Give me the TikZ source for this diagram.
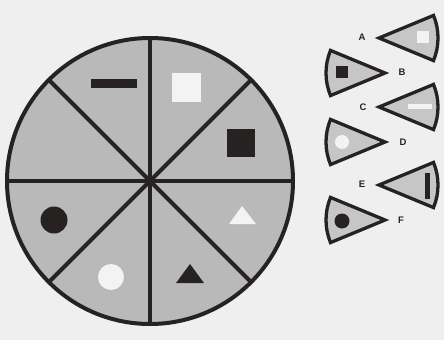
\documentclass[tikz,border=0pt]{standalone}
\usepackage{fontspec}
\setsansfont{Liberation Sans}
\begin{document}
\begin{tikzpicture}[x=1pt,y=-1pt,
  ink/.style={draw=inkc,line width=4pt,line join=miter},
  wedgestyle/.style={draw=inkc,fill=wedgefill,line width=3.3pt,line join=miter},
  lbl/.style={font=\fontsize{9.5}{9.5}\selectfont\sffamily\bfseries,text=inkc,inner sep=0pt},
  blk/.style={fill=inkc,draw=none},
  wht/.style={fill=whitec,draw=none}]
\definecolor{bgc}{HTML}{EFEFEF}
\definecolor{inkc}{HTML}{262222}
\definecolor{sectfill}{HTML}{B9B9B9}
\definecolor{wedgefill}{HTML}{C6C6C6}
\definecolor{whitec}{HTML}{F3F3F3}
\fill[bgc] (0,0) rectangle (444,340);
\useasboundingbox (0,0) rectangle (444,340);
% main circle
\coordinate (O) at (150,181);
\fill[sectfill] (O) circle[radius=143];
% shapes in sectors
\fill[blk] (91,79) rectangle (137,88);
\fill[wht] (172,73) rectangle (201,102);
\fill[blk] (227,129) rectangle (255,157);
\fill[wht] (242,206) -- (256,224) -- (229,224) -- cycle;
\fill[blk] (190,264) -- (204,283) -- (176,283) -- cycle;
\fill[wht] (111,277) circle[radius=13];
\fill[blk] (54,220) circle[radius=13.5];
\foreach \a in {0,45,...,315} \draw[ink,line cap=butt] (O) -- ++(\a:143);
\draw[ink] (O) circle[radius=143];
% wedges pointing left (arc on right)
\foreach \y/\n in {38/A,107/C,185/E}{
  \coordinate (w\n) at (379,\y);
  \draw[wedgestyle] (w\n) -- ++(22.5:59) arc[start angle=22.5,end angle=-22.5,radius=59] -- cycle;
}
% wedges pointing right (arc on left)
\foreach \y/\n in {73/B,142/D,220/F}{
  \coordinate (w\n) at (385,\y);
  \draw[wedgestyle] (w\n) -- ++(157.5:59) arc[start angle=157.5,end angle=202.5,radius=59] -- cycle;
}
% wedge contents
\fill[wht] (417,31) rectangle (429,43);
\fill[blk] (336,66) rectangle (348,78);
\fill[wht] (408,104) rectangle (432,109);
\fill[wht] (342,142) circle[radius=7];
\fill[blk] (425,173) rectangle (430,199);
\fill[blk] (342,221) circle[radius=7.5];
% labels
\node[lbl] (lA) at (362,37) {A};
\node[lbl] (lB) at (402,72) {B};
\node[lbl] (lC) at (363,107) {C};
\node[lbl] (lD) at (403,142) {D};
\node[lbl] (lE) at (362,184) {E};
\node[lbl] (lF) at (401,220) {F};
\end{tikzpicture}
\end{document}
